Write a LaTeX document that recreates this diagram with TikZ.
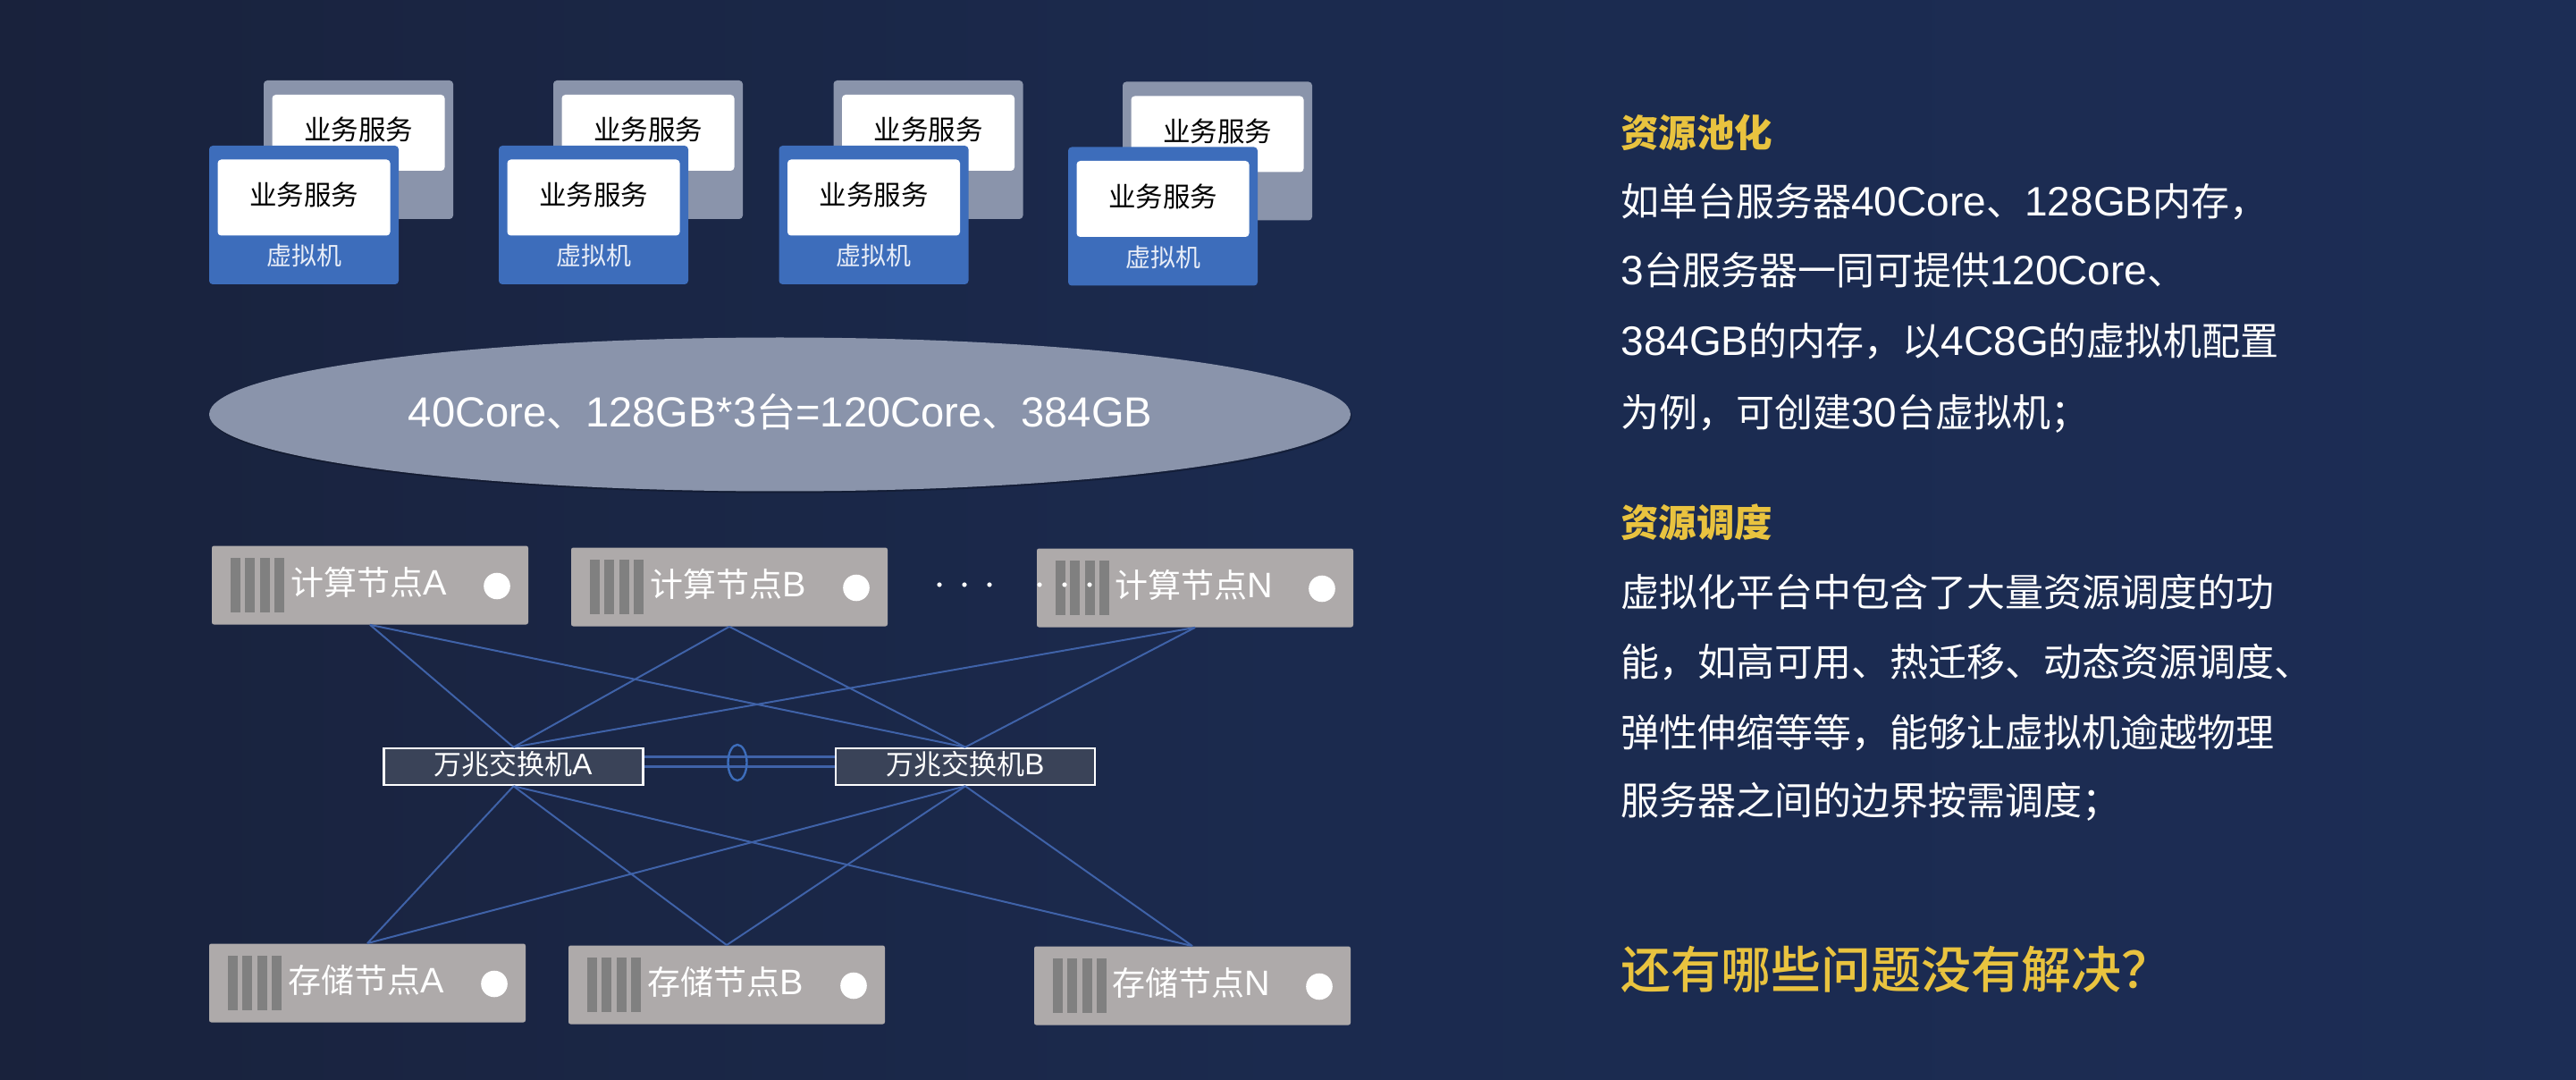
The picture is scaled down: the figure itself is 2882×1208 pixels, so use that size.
\documentclass[tikz,border=0pt]{standalone}
\usepackage{fontspec}
\setmainfont{Noto Sans CJK SC}
\newfontfamily\enf[Scale=1.07]{Liberation Sans}
\newfontfamily\medf{Noto Sans CJK SC Medium}
\newcommand{\en}[1]{{\enf #1}}
\newcommand{\dou}{\char"FF0C\relax}
\newcommand{\fen}{\char"FF1B\relax}
\newcommand{\wen}{\char"FF1F\relax}
\newcommand{\fpx}[1]{\fontsize{\fpeval{#1*0.5}pt}{\fpeval{#1*0.6}pt}\selectfont}
\usetikzlibrary{shapes.geometric,shadows}
\definecolor{bgl}{HTML}{19223C}
\definecolor{bgm}{HTML}{1B2A4E}
\definecolor{bgr}{HTML}{1C2D55}
\definecolor{vmgray}{HTML}{8A94AB}
\definecolor{vmblue}{HTML}{3D6DBB}
\definecolor{nodegray}{HTML}{AEAAAA}
\definecolor{bargray}{HTML}{808080}
\definecolor{linkblue}{HTML}{3F62A8}
\definecolor{swfill}{HTML}{3A4358}
\definecolor{gold}{HTML}{E9C33F}
\tikzset{
  px/.style={x=0.5pt,y=-0.5pt},
  vmback/.style={fill=vmgray,rounded corners=2pt,minimum width=106pt,minimum height=77.5pt,inner sep=0pt},
  vmfront/.style={fill=vmblue,rounded corners=2pt,minimum width=106pt,minimum height=77.5pt,inner sep=0pt},
  svc/.style={fill=white,rounded corners=2pt,minimum width=96.5pt,minimum height=42.5pt,inner sep=0pt},
  svctext/.style={text=black,font=\fpx{30.5},inner sep=0pt},
  vmlabel/.style={text=white!88!vmblue,font=\fpx{28},inner sep=0pt},
  srv/.style={fill=nodegray,rounded corners=1.2pt,minimum width=177pt,minimum height=44pt,inner sep=0pt},
  srvtext/.style={text=white,font=\fpx{37},inner sep=0pt},
  bar/.style={fill=bargray,minimum width=5.5pt,minimum height=30.5pt,inner sep=0pt},
  lamp/.style={fill=white,circle,minimum size=14.8pt,inner sep=0pt},
  sw/.style={draw=white,line width=1.3pt,fill=swfill,minimum width=145pt,minimum height=20.5pt,inner sep=0pt},
  swtext/.style={text=white,font=\fpx{31},inner sep=0pt},
  link/.style={draw=linkblue,line width=1pt},
  head/.style={text=gold,font=\bfseries\fpx{42.5},anchor=west,inner sep=0pt},
  body/.style={text=white,font=\fpx{43},anchor=west,inner sep=0pt},
}
\newcommand{\vmgroup}[3]{%
 \node[vmback] (g#1) at (#2+61+106,167.5+#3) {};
 \node[svc] (gs#1) at (#2+61+106,148.5+#3) {};
 \node[svctext] (gt#1) at (#2+61+106,145+#3) {业务服务};
 \node[vmfront] (b#1) at (#2+106,240.5+#3) {};
 \node[svc] (bs#1) at (#2+106,221+#3) {};
 \node[svctext] (bt#1) at (#2+106,218+#3) {业务服务};
 \node[vmlabel] (bl#1) at (#2+106,286+#3) {虚拟机};
}
\newcommand{\server}[4]{% name, left, top, text
 \node[srv] (#1) at (#2+177,#3+44.5) {};
 \foreach \k in {0,1,2,3} \node[bar] (#1bar\k) at (#2+26.5+\k*16.4,#3+44.5) {};
 \node[srvtext] (#1t) at (#2+176,#3+41) {#4};
 \node[lamp] (#1c) at (#2+319,#3+45.5) {};
}
\begin{document}
\begin{tikzpicture}[px]
\useasboundingbox (0,0) rectangle (2882,1208);
\shade[left color=bgl,right color=bgr,middle color=bgm] (0,0) rectangle (2882,1208);
\vmgroup{1}{234}{0}
\vmgroup{2}{558}{0}
\vmgroup{3}{871.5}{0}
\vmgroup{4}{1195}{1.5}
\node[ellipse,fill=vmgray,minimum width=638.5pt,minimum height=86pt,inner sep=0pt,drop shadow={shadow xshift=0.6pt,shadow yshift=-1pt,opacity=.25,fill=black}] (pool) at (872.5,463.5) {};
\node[text=white,font=\fpx{44},inner sep=0pt] (poolt) at (873,461) {\en{40Core}、\en{128GB*3}台\en{=120Core}、\en{384GB}};
\server{ca}{237}{610}{计算节点\en{A}}
\server{cb}{639}{612}{计算节点\en{B}}
\server{cn}{1160}{613}{计算节点\en{N}}
\server{sa}{234}{1055}{存储节点\en{A}}
\server{sb}{636}{1057}{存储节点\en{B}}
\server{sn}{1157}{1058}{存储节点\en{N}}
\node[sw] (swa) at (574.5,857.5) {};
\node[sw] (swb) at (1080,857.5) {};
\node[swtext] (swat) at (574,855) {万兆交换机\en{A}};
\node[swtext] (swbt) at (1080,855) {万兆交换机\en{B}};
\foreach \n in {ca,cb,cn} {\draw[link] (\n.south) -- (swa.north); \draw[link] (\n.south) -- (swb.north);}
\foreach \n in {sa,sb,sn} {\draw[link] (\n.north) -- (swa.south); \draw[link] (\n.north) -- (swb.south);}
\draw[link,line width=1.2pt] ([yshift=5.5pt]swa.east) -- ([yshift=5.5pt]swb.west);
\draw[link,line width=1.2pt] (swa.east) -- (swb.west);
\node[ellipse,draw=vmblue,line width=1.2pt,minimum width=10.5pt,minimum height=20pt,inner sep=0pt] (ring) at (825,853) {};
\foreach \x in {1051,1079,1107,1163,1191,1219} \fill[white] (\x,654) circle[radius=2.6];
\node[head] (t1) at (1813,148) {资源池化};
\node[body] (l1) at (1813,226) {如单台服务器\en{40Core}、\en{128GB}内存\dou};
\node[body] (l2) at (1813,302) {\en{3}台服务器一同可提供\en{120Core}、};
\node[body] (l3) at (1813,382) {\en{384GB}的内存\dou 以\en{4C8G}的虚拟机配置};
\node[body] (l4) at (1813,463) {为例\dou 可创建\en{30}台虚拟机\fen};
\node[head] (t2) at (1813,584) {资源调度};
\node[body] (m1) at (1813,662) {虚拟化平台中包含了大量资源调度的功};
\node[body] (m2) at (1813,741) {能\dou 如高可用、热迁移、动态资源调度、};
\node[body] (m3) at (1813,820) {弹性伸缩等等\dou 能够让虚拟机逾越物理};
\node[body] (m4) at (1813,897) {服务器之间的边界按需调度\fen};
\node[head,font=\medf\fpx{56}] (q) at (1813,1084) {还有哪些问题没有解决\wen};
\end{tikzpicture}
\end{document}
